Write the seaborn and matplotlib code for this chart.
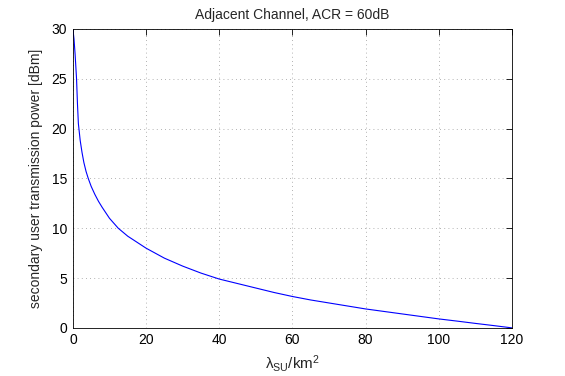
import pandas as pd
import matplotlib
matplotlib.use("Agg")
import matplotlib.pyplot as plt
import seaborn as sns

# values
density = [0, 0.3, 0.6, 1.0, 1.25, 1.5, 2.0, 2.5, 3.0, 3.6, 4.2, 5.0, 6.0, 7.0,
           8.0, 10.0, 12.4, 15.0, 17.5, 20.0, 25.0, 30.0, 35.0, 40.0, 45.0, 50.0, 55.0,
           60.0, 65.0, 70.0, 75.0, 80.0, 85.0, 90.0, 95.0, 100.0, 105.0, 110.0, 115.0, 120.0]
power_dbm = [30.0, 29.0, 27.5, 25.0, 22.5, 20.5, 18.8, 17.6, 16.6, 15.7, 15.0, 14.2,
             13.4, 12.7, 12.1, 11.0, 10.0, 9.2, 8.6, 8.0, 7.0, 6.2, 5.5, 4.9, 4.45, 4.0, 3.55,
             3.15, 2.8, 2.5, 2.2, 1.9, 1.65, 1.4, 1.15, 0.9, 0.68, 0.45, 0.23, 0.0]

df = pd.DataFrame({"lambda": density, "power": power_dbm})

sns.set_style("white")
plt.rcParams["font.family"] = ["Liberation Sans", "DejaVu Sans"]
plt.rcParams["mathtext.default"] = "regular"

fig = plt.figure(figsize=(5.65, 3.76), dpi=100)
ax = fig.add_axes([0.129, 0.128, 0.777, 0.795])

sns.lineplot(data=df, x="lambda", y="power", ax=ax, color="#0000ff", linewidth=0.8)

ax.set_xlim(0, 120)
ax.set_ylim(0, 30)
ax.set_xticks([0, 20, 40, 60, 80, 100, 120])
ax.set_yticks([0, 5, 10, 15, 20, 25, 30])
ax.grid(True, linestyle=(0, (1, 4)), color="#999999", linewidth=0.6)
ax.tick_params(direction="in", top=True, right=True, length=4, width=0.6,
               labelsize=10, colors="black", pad=4)
for s in ax.spines.values():
    s.set_color("black")
    s.set_linewidth(0.6)

ax.set_title("Adjacent Channel, ACR = 60dB", fontsize=10, pad=7)
ax.set_xlabel(r"λ$_{SU}$/km$^{2}$", fontsize=11, labelpad=4)
ax.set_ylabel("secondary user transmission power [dBm]", fontsize=10, labelpad=6)

fig.savefig("out.png", dpi=100)
